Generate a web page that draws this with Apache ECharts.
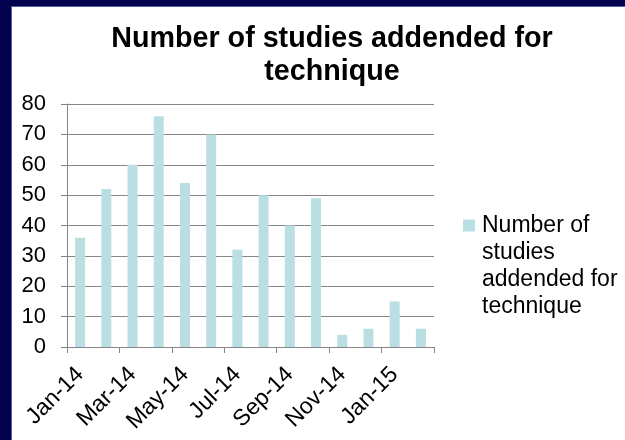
<!DOCTYPE html>
<html><head><meta charset="utf-8">
<script src="https://cdn.jsdelivr.net/npm/echarts@6/dist/echarts.min.js"></script>
<style>
html,body{margin:0;padding:0;}
#wrap{position:relative;width:625px;height:440px;background:#02024f;overflow:hidden;}
#paper{position:absolute;left:11px;top:6px;right:0;bottom:0;background:#fff;border-left:1px solid #5858b0;border-top:1px solid #5858b0;}
#chart{position:absolute;left:0;top:0;width:625px;height:440px;}
</style></head>
<body>
<div id="wrap"><div id="paper"></div><div id="chart"></div></div>
<script>
const categories = ['Jan-14','Feb-14','Mar-14','Apr-14','May-14','Jun-14','Jul-14','Aug-14','Sep-14','Oct-14','Nov-14','Dec-14','Jan-15','Feb-15'];
const studies = [36, 52, 60, 76, 54, 70, 32, 50, 40, 49, 4, 6, 15, 6];
const yTicks = [0, 10, 20, 30, 40, 50, 60, 70, 80];
const seriesName = 'Number of studies addended for technique';
const legendLines = ['Number of', 'studies', 'addended for', 'technique'];

const FONT = '"Liberation Sans", Arial, sans-serif';
const chart = echarts.init(document.getElementById('chart'), null, {renderer: 'canvas'});
// leading blank lines push the multi-line legend text down so its first line sits beside the swatch
const legendText = '\n'.repeat(legendLines.length - 1) + legendLines.join('\n');
chart.setOption({
  animation: false,
  backgroundColor: 'transparent',
  title: {
    text: 'Number of studies addended for\ntechnique',
    left: 327, top: 18, textAlign: 'center',
    textStyle: {fontFamily: FONT, fontSize: 28.7, fontWeight: 'bold', color: '#000', lineHeight: 33}
  },
  legend: {
    data: [seriesName],
    left: 463, top: 131, padding: 0,
    itemWidth: 12, itemHeight: 12,
    icon: 'rect',
    formatter: () => legendText,
    textStyle: {fontFamily: FONT, fontSize: 23, color: '#000', lineHeight: 27, padding: [0, 0, 0, 2]}
  },
  grid: {left: 67, right: 191, top: 104, bottom: 93, containLabel: false},
  xAxis: {
    type: 'category', data: categories, boundaryGap: true,
    axisLine: {lineStyle: {color: '#868686', width: 1}},
    axisTick: {show: true, interval: 1, length: 6, lineStyle: {color: '#868686'}},
    axisLabel: {interval: 1, rotate: 45, margin: 24, fontFamily: FONT, fontSize: 23, color: '#000'}
  },
  yAxis: {
    type: 'value', min: yTicks[0], max: yTicks[yTicks.length - 1], interval: yTicks[1] - yTicks[0],
    axisLine: {show: true, lineStyle: {color: '#868686', width: 1}},
    axisTick: {show: true, length: 6, lineStyle: {color: '#868686'}},
    splitLine: {lineStyle: {color: '#868686', width: 1}},
    axisLabel: {margin: 21, fontFamily: FONT, fontSize: 22, color: '#000'}
  },
  series: [{
    name: seriesName, type: 'bar', data: studies,
    barWidth: 10,
    itemStyle: {color: '#b9dfe3'}
  }]
});
</script>
</body></html>
